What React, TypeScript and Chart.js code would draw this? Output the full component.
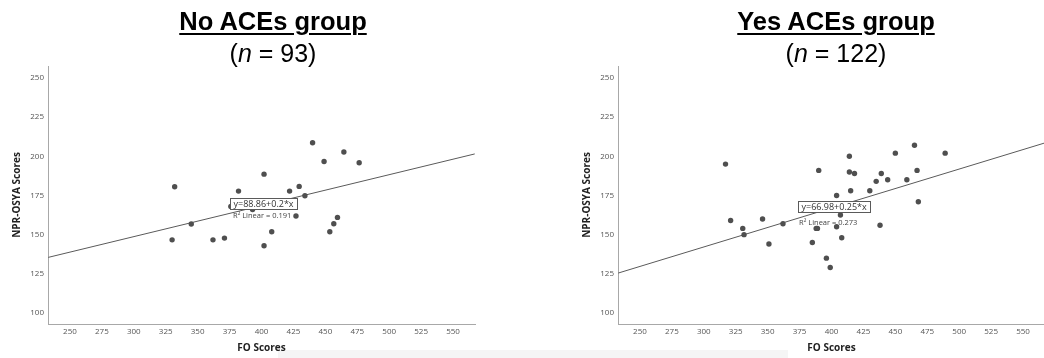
import React, { useEffect, useRef } from "react";
import { Chart, registerables } from "chart.js";

Chart.register(...registerables);

// ---------- data ----------
const xTickStep = 25; // FO Scores ticks 250 … 550
const yTickStep = 25; // NPR-OSYA ticks 100 … 250

const noAcesFO = [332, 330, 345, 362, 371, 376, 382, 393, 402, 402, 408, 422, 427, 429.5, 434, 440, 449, 453.5, 456.6, 459.5, 464.5, 476.5];
const noAcesNPR = [180.6, 146.7, 156.8, 146.7, 147.8, 168, 177.8, 166, 188.6, 142.9, 151.9, 177.8, 161.9, 180.8, 174.8, 208.6, 196.7, 151.9, 157, 161, 202.7, 195.9];

const yesAcesFO = [317, 321, 330.5, 331.5, 346, 351, 362, 385, 388, 389, 390, 396, 399, 404, 404, 407, 408, 414, 414, 415, 418, 430, 435, 438, 439, 444, 450, 459, 465, 467, 468, 489];
const yesAcesNPR = [195, 159, 154, 150, 160, 144, 157, 145, 154, 154, 191, 135, 129, 175, 155, 162.5, 148, 200, 190, 178, 189, 178, 184, 156, 189, 185, 202, 185, 207, 191, 171, 202];

const fitX = [233, 567];
const noAcesFitY = [135.5, 201.5];
const yesAcesFitY = [125.5, 208.5];

const noAcesEquation = "y=88.86+0.2*x";
const noAcesR2 = "R² Linear = 0.191";
const yesAcesEquation = "y=66.98+0.25*x";
const yesAcesR2 = "R² Linear = 0.273";

const xRange = [232.8, 567.2];
const yRange = [93, 257.6];

// ---------- label plugin ----------
const fitLabelPlugin = {
  id: "fitLabel",
  afterDatasetsDraw(chart: any, _args: any, opts: any) {
    const { ctx } = chart;
    const x = chart.scales.x;
    const y = chart.scales.y;
    ctx.save();
    ctx.font = '9px "Open Sans"';
    const bx = Math.round(x.getPixelForValue(opts.boxX));
    const by = Math.round(y.getPixelForValue(opts.boxY));
    const tw = ctx.measureText(opts.eq).width;
    const w = Math.round(tw + 7);
    const h = 11;
    ctx.fillStyle = "#ffffff";
    ctx.fillRect(bx, by, w, h);
    ctx.strokeStyle = "#5a5a5a";
    ctx.lineWidth = 1;
    ctx.strokeRect(bx + 0.5, by + 0.5, w, h);
    ctx.fillStyle = "#333333";
    ctx.textBaseline = "middle";
    ctx.textAlign = "left";
    ctx.fillText(opts.eq, bx + 3.5, by + h / 2 + 1);
    ctx.font = '7.5px "Open Sans"';
    ctx.fillStyle = "#444444";
    ctx.fillText(opts.r2, x.getPixelForValue(opts.r2X), y.getPixelForValue(opts.r2Y));
    ctx.restore();
  },
};

function makeConfig(fo: number[], npr: number[], fitY: number[], ann: any): any {
  return {
    type: "scatter",
    data: {
      datasets: [
        {
          data: fo.map((v, i) => ({ x: v, y: npr[i] })),
          pointRadius: 2.7,
          pointHoverRadius: 2.7,
          backgroundColor: "#4f4f4f",
          borderColor: "#4f4f4f",
          borderWidth: 0,
        },
        {
          type: "line",
          data: fitX.map((v, i) => ({ x: v, y: fitY[i] })),
          showLine: true,
          borderColor: "#5a5a5a",
          borderWidth: 1,
          pointRadius: 0,
          fill: false,
        },
      ],
    },
    options: {
      responsive: true,
      maintainAspectRatio: false,
      animation: false,
      events: [],
      layout: { padding: { top: 66, right: 95, left: 0, bottom: 0 } },
      plugins: {
        legend: { display: false },
        tooltip: { enabled: false },
        fitLabel: ann,
      },
      scales: {
        x: {
          type: "linear",
          min: xRange[0],
          max: xRange[1],
          afterFit: (s: any) => {
            s.height = 34;
          },
          grid: { display: false, drawTicks: false },
          border: { display: true, color: "#a8a8a8", width: 1 },
          ticks: {
            stepSize: xTickStep,
            includeBounds: false,
            padding: 3,
            color: "#555555",
            font: { family: "Open Sans", size: 8 },
          },
          title: {
            display: true,
            text: "FO Scores",
            color: "#222222",
            font: { family: "Open Sans", size: 10, weight: "bold" },
            padding: { top: 0, bottom: 3.4 },
          },
        },
        y: {
          type: "linear",
          min: yRange[0],
          max: yRange[1],
          afterFit: (s: any) => {
            s.width = 48;
          },
          grid: { display: false, drawTicks: false },
          border: { display: true, color: "#a8a8a8", width: 1 },
          ticks: {
            stepSize: yTickStep,
            includeBounds: false,
            padding: 4,
            color: "#555555",
            font: { family: "Open Sans", size: 8 },
          },
          title: {
            display: true,
            text: "NPR-OSYA Scores",
            color: "#222222",
            font: { family: "Open Sans", size: 10, weight: "bold" },
            padding: { top: 11.4, bottom: 0 },
          },
        },
      },
    },
    plugins: [fitLabelPlugin],
  };
}

function Panel(props: { left: number; config: any }) {
  const ref = useRef<HTMLCanvasElement | null>(null);
  useEffect(() => {
    if (!ref.current) return;
    const chart = new Chart(ref.current, props.config);
    return () => chart.destroy();
  }, []);
  return (
    <div style={{ position: "absolute", left: props.left, top: 0, width: 570, height: 358 }}>
      <canvas ref={ref} />
    </div>
  );
}

function Title(props: { center: number; title: string; n: string }) {
  const base: React.CSSProperties = {
    position: "absolute",
    left: props.center - 200,
    width: 400,
    textAlign: "center",
    fontFamily: '"Liberation Sans", Arial, sans-serif',
    lineHeight: "24px",
    color: "#000",
    whiteSpace: "nowrap",
  };
  return (
    <>
      <div style={{ ...base, top: 8.5, fontSize: 25.5 }}>
        <span
          style={{
            fontWeight: "bold",
            textDecoration: "underline",
            textDecorationThickness: "2px",
            textUnderlineOffset: "3px",
          }}
        >
          {props.title}
        </span>
      </div>
      <div style={{ ...base, top: 41, fontSize: 25 }}>
        (<i>n</i> = {props.n})
      </div>
    </>
  );
}

export default function App() {
  const leftCfg = makeConfig(noAcesFO, noAcesNPR, noAcesFitY, {
    eq: noAcesEquation,
    r2: noAcesR2,
    boxX: 375.4,
    boxY: 173.3,
    r2X: 377.7,
    r2Y: 161.9,
  });
  const rightCfg = makeConfig(yesAcesFO, yesAcesNPR, yesAcesFitY, {
    eq: yesAcesEquation,
    r2: yesAcesR2,
    boxX: 373.8,
    boxY: 171.6,
    r2X: 374.6,
    r2Y: 157.7,
  });
  return (
    <div
      style={{
        position: "fixed",
        left: 0,
        top: 0,
        width: 1044,
        height: 358,
        overflow: "hidden",
        background: "#ffffff",
      }}
    >
      <div style={{ position: "absolute", left: 278, top: 350, width: 510, height: 8, background: "#f5f5f5" }} />
      <Panel left={0} config={leftCfg} />
      <Panel left={570} config={rightCfg} />
      <Title center={273} title="No ACEs group" n="93" />
      <Title center={836} title="Yes ACEs group" n="122" />
    </div>
  );
}
